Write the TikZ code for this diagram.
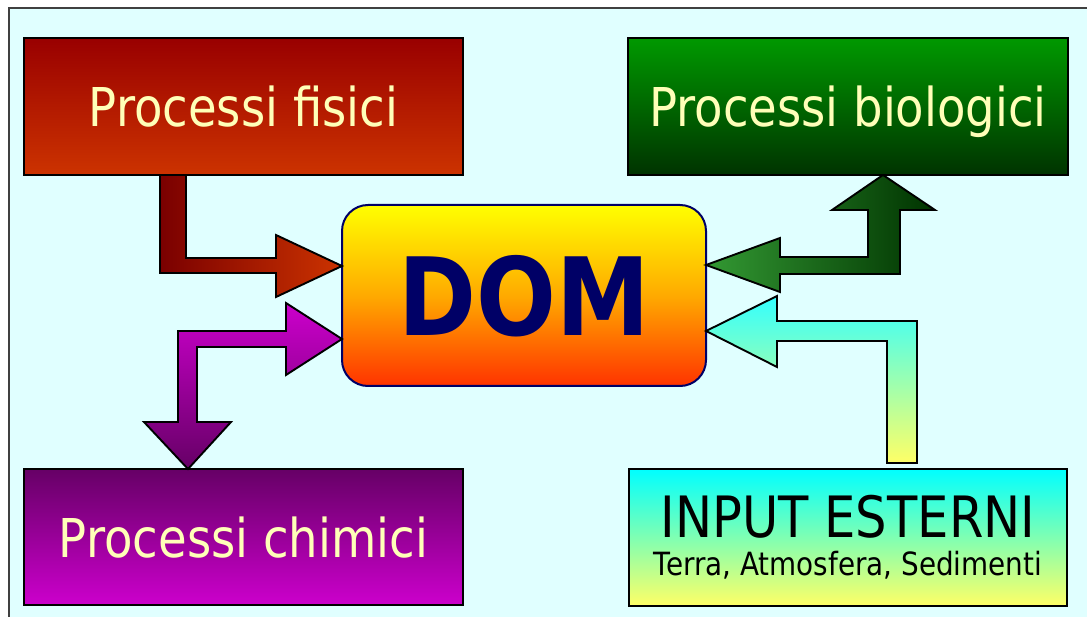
\documentclass[tikz,border=0pt]{standalone}
\usepackage{fontspec}
\setmainfont[FakeStretch=0.87]{DejaVu Sans}
\usepackage{tikz}
\usetikzlibrary{calc,positioning}
\definecolor{panelbg}{HTML}{E0FFFF}
\definecolor{proctext}{HTML}{FFFFB8}
\definecolor{fisicitop}{HTML}{990000}
\definecolor{fisicibot}{HTML}{CC3300}
\definecolor{biotop}{HTML}{009900}
\definecolor{biobot}{HTML}{003300}
\definecolor{chimtop}{HTML}{660066}
\definecolor{chimbot}{HTML}{CC00CC}
\definecolor{inputtop}{HTML}{00FFFF}
\definecolor{inputbot}{HTML}{FFFF66}
\definecolor{domtop}{HTML}{FFFF00}
\definecolor{dommid}{HTML}{FFAA00}
\definecolor{dombot}{HTML}{FF3300}
\definecolor{domedge}{HTML}{000066}
\definecolor{domtext}{HTML}{000066}
\definecolor{fisiciarrL}{HTML}{7A0000}
\definecolor{fisiciarrR}{HTML}{CC3300}
\definecolor{bioarrL}{HTML}{339933}
\definecolor{bioarrR}{HTML}{003300}
\definecolor{chimarrT}{HTML}{CC00CC}
\definecolor{chimarrB}{HTML}{660066}
\definecolor{inarrT}{HTML}{33FFFF}
\definecolor{inarrB}{HTML}{FFFF66}

\begin{document}
\begin{tikzpicture}[x=1pt,y=-1pt,
    procbox/.style={draw=black,line width=2.2pt,outer sep=0pt,inner sep=0pt,minimum width=439pt,minimum height=137pt},
    proctitle/.style={procbox,text=proctext,text depth=0pt,font=\fontsize{53.5}{60}\selectfont},
    blockarrow/.style={draw=black,line width=1.9pt,line join=miter}]
  \useasboundingbox (0,0) rectangle (1087,617);
  \fill[panelbg] (9,8) rectangle (1087,617);
  \draw[line width=1.8pt,black!75] (9,617) -- (9,8) -- (1087,8);

  \node[proctitle,top color=fisicitop,bottom color=fisicibot] (fisici) at (243.5,106.5) {Processi fisici};
  \node[proctitle,top color=biotop,bottom color=biobot,minimum width=440pt] (bio) at (848,106.5) {Processi biologici};
  \node[proctitle,top color=chimtop,bottom color=chimbot,minimum height=136pt] (chim) at (243.5,537) {Processi chimici};
  \node[procbox,top color=inputtop,bottom color=inputbot,minimum width=438pt,align=center,
        font=\fontsize{32}{38}\selectfont] (input) at (848,537.5)
        {{\fontsize{57}{38}\selectfont INPUT ESTERNI}\\Terra, Atmosfera, Sedimenti};
  \node[draw=domedge,line width=2pt,rounded corners=26pt,outer sep=0pt,inner sep=0pt,
        minimum width=364pt,minimum height=181pt,top color=domtop,bottom color=dombot,middle color=dommid,
        text=domtext,text depth=0pt,font=\fontsize{108}{112}\selectfont\bfseries] (dom) at (524,295.5) {DOM};

  \coordinate (fisTip) at ([yshift=29.5pt]dom.west);
  \coordinate (bioTip) at ([yshift=30.5pt]dom.east);
  \coordinate (chimTip) at ([yshift=-43.5pt]dom.west);
  \coordinate (inTip) at ([yshift=-35.5pt]dom.east);

  \draw[blockarrow,left color=fisiciarrL,right color=fisiciarrR] (fisici.south -| 160,0) -- ++(0,98) -- ++(116,0)
    -- ++(0,24) -- (fisTip) -- ++(-66,-31) -- ++(0,23) -- ++(-90,0) -- (fisici.south -| 186,0) -- cycle;
  \draw[blockarrow,left color=bioarrL,right color=bioarrR] (bioTip) -- ++(74,-27) -- ++(0,19) -- ++(88,0)
    -- ++(0,-47) -- ++(-36,0) -- (bio.south -| 883,0) -- ++(52,35) -- ++(-35,0) -- ++(0,64) -- ++(-120,0) -- ++(0,18) -- cycle;
  \draw[blockarrow,top color=chimarrT,bottom color=chimarrB] (chimTip) -- ++(-56,-36) -- ++(0,28) -- ++(-108,0)
    -- ++(0,91) -- ++(-34,0) -- (chim.north -| 188,0) -- ++(43,-47) -- ++(-34,0) -- ++(0,-75) -- ++(89,0) -- ++(0,28) -- cycle;
  \draw[blockarrow,top color=inarrT,bottom color=inarrB] (inTip) -- ++(71,-35) -- ++(0,25) -- ++(140,0)
    -- ++(0,142) -- ++(-30,0) -- ++(0,-122) -- ++(-110,0) -- ++(0,26) -- cycle;
\end{tikzpicture}
\end{document}
